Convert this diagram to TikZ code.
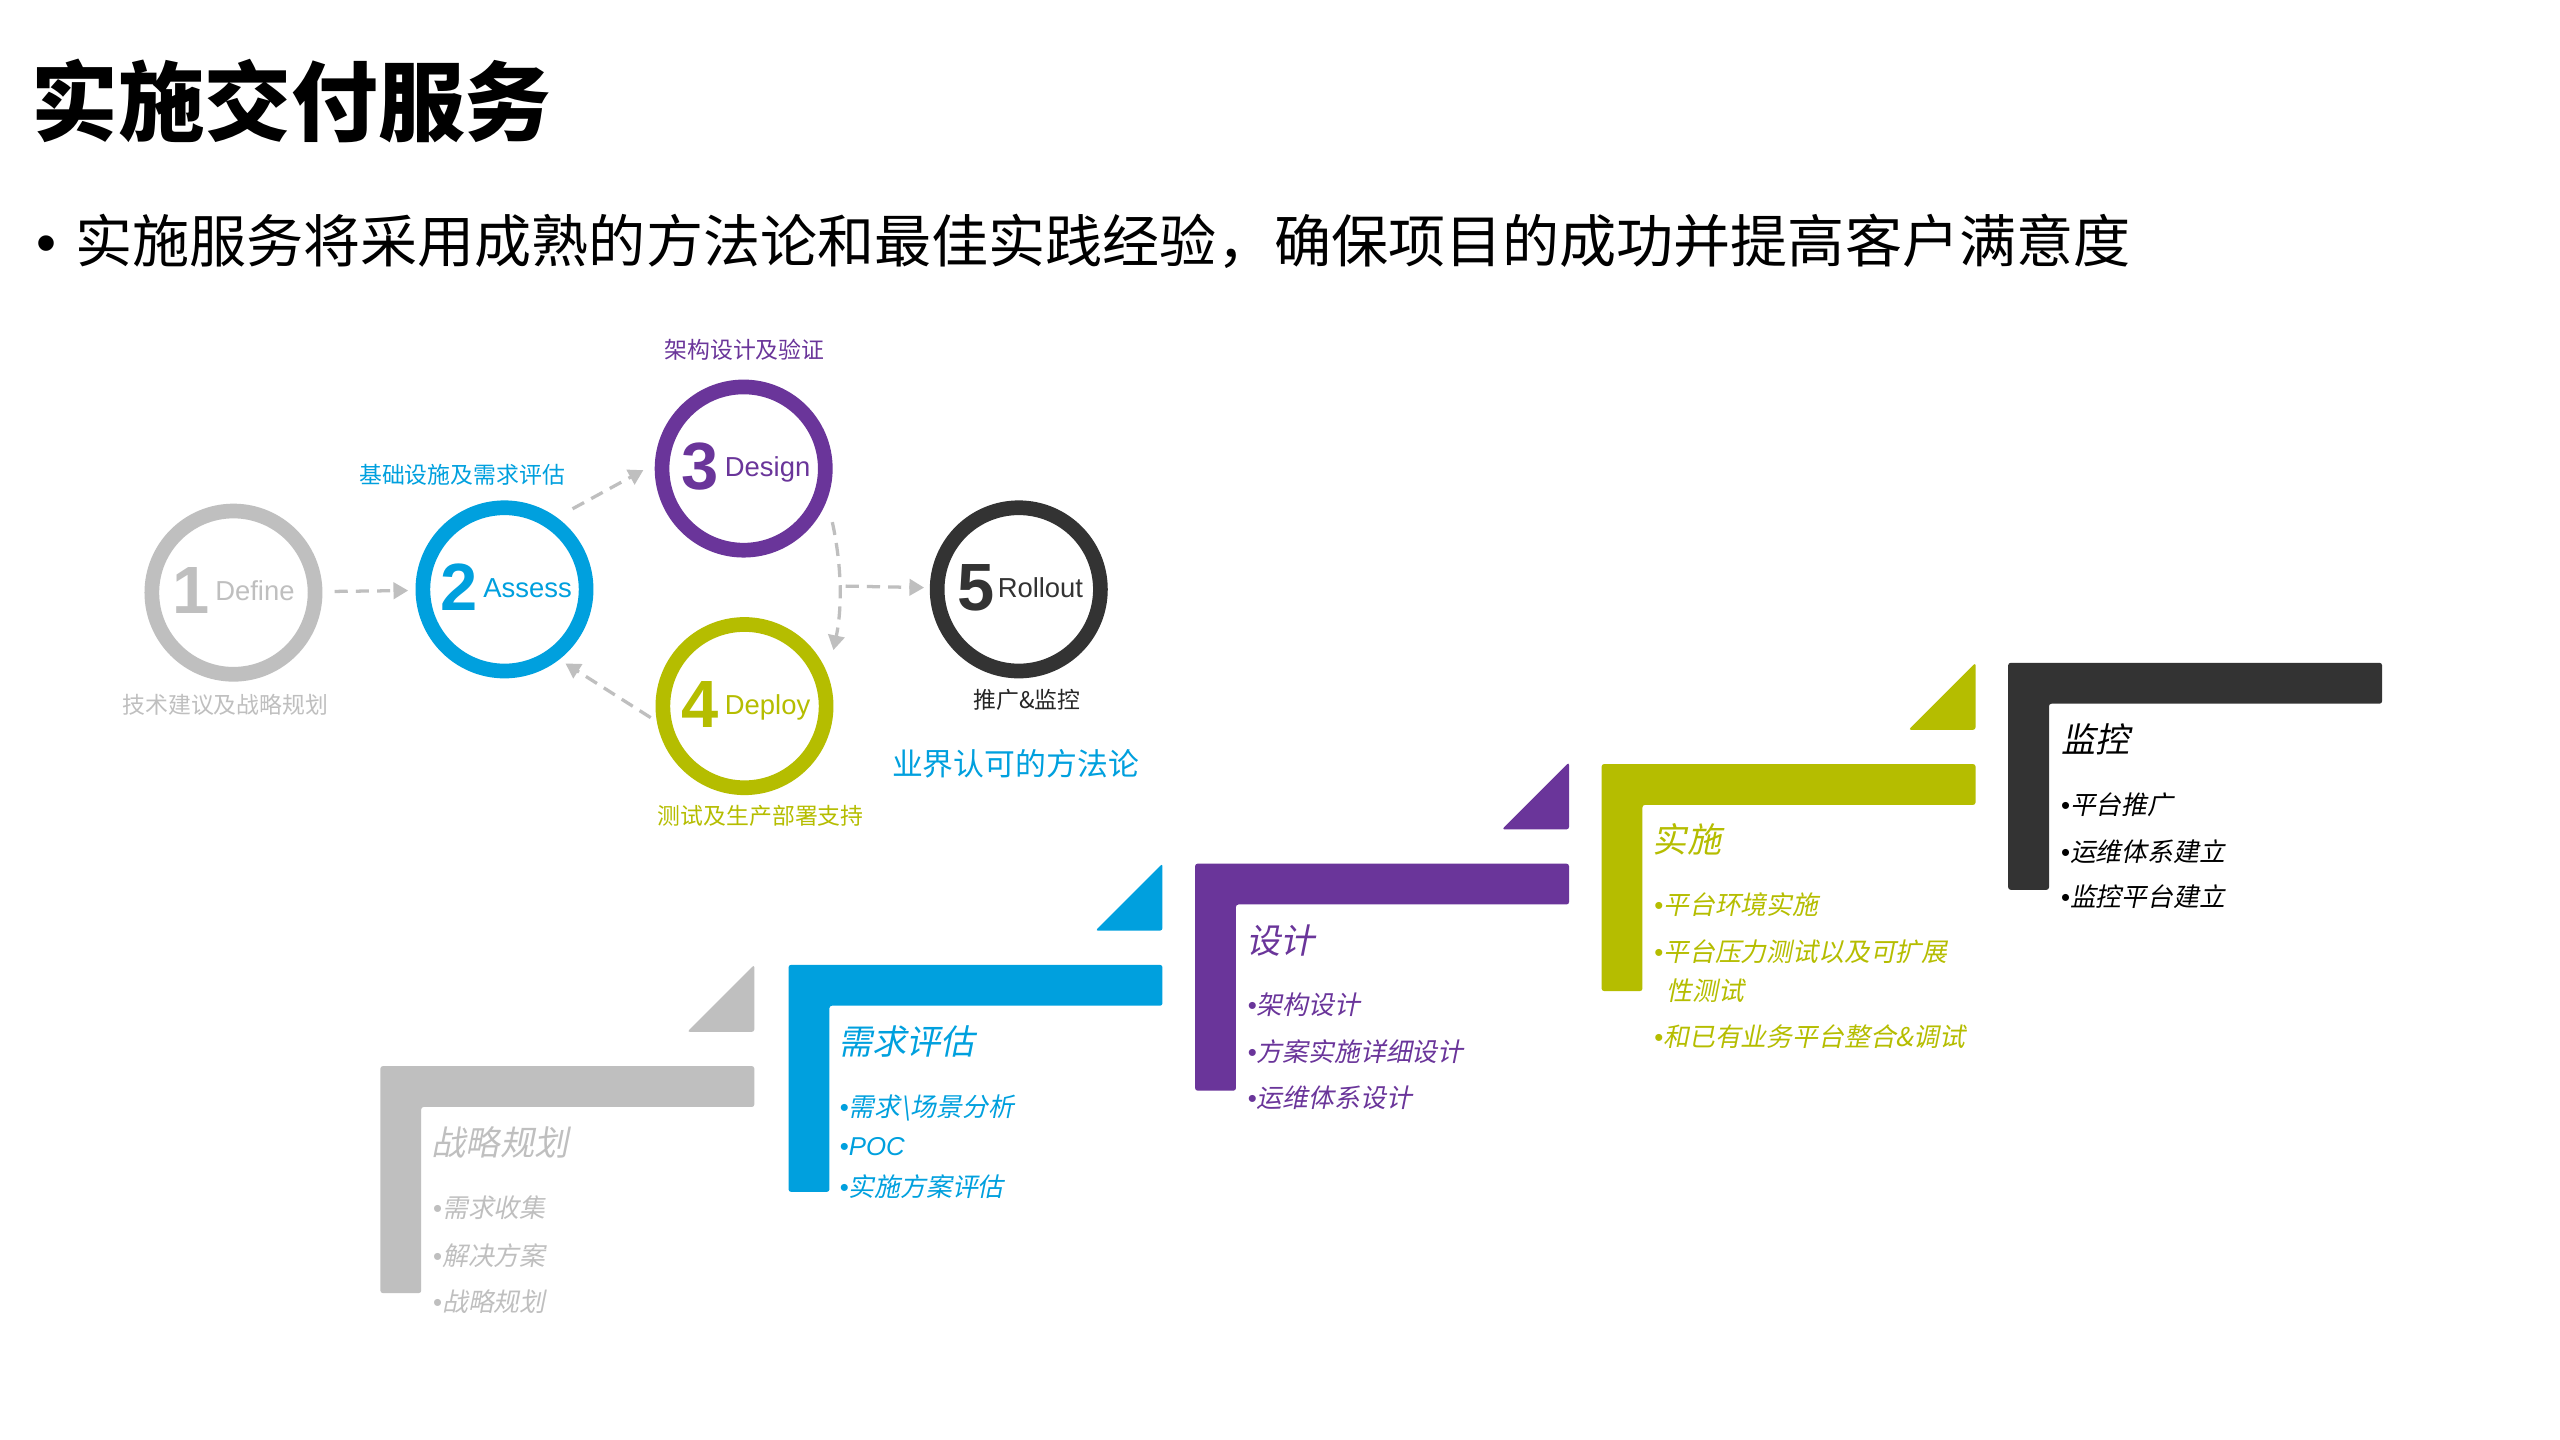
\documentclass[tikz,border=0pt]{standalone}
\usepackage{fontspec}
\setmainfont{Liberation Sans}
\newfontfamily\cjk{Noto Sans CJK SC}
\newfontfamily\cjkit{Noto Sans CJK SC}[FakeSlant=0.2]
\usetikzlibrary{arrows.meta}
\newcommand\fsz[1]{\fontsize{#1}{#1}\selectfont}
\newcommand\bul{{\rmfamily\upshape\textbullet}}
\definecolor{cgray}{HTML}{BFBFBF}
\definecolor{cblue}{HTML}{00A0DE}
\definecolor{cpurple}{HTML}{6A359A}
\definecolor{cyel}{HTML}{B5BD00}
\definecolor{cdark}{HTML}{333333}
\newcommand\stair[3]{%
  \fill[#3, rounded corners=0.3mm] (#1,#2) -- ({#1+229},#2) -- ({#1+229},{#2+25}) -- ({#1+25},{#2+25}) -- ({#1+25},{#2+139}) -- (#1,{#2+139}) -- cycle;}
\newcommand\stairtri[3]{%
  \fill[#3, rounded corners=0.3mm] ({#1+188},{#2-21}) -- ({#1+229},{#2-21}) -- ({#1+229},{#2-62}) -- cycle;}
\begin{document}
\begin{tikzpicture}[x=0.2mm,y=-0.2mm,
  ring/.style={circle, draw=#1, line width=1.8mm, minimum size=20mm, inner sep=0},
  flow/.style={draw=cgray, line width=0.4mm, dash pattern=on 1.6mm off 1mm, -{Triangle[length=1.8mm,width=2mm]}},
  lbl/.style={inner sep=0, font=\cjk\fsz{7.97}},
  num/.style={anchor=base, inner sep=0},
  stitle/.style={anchor=west, inner sep=0, font=\cjkit\fsz{11.95}},
  sitem/.style={anchor=west, inner sep=0, font=\cjkit\fsz{9}},
]
\useasboundingbox[fill=white] (0,0) rectangle (1568,882);

% heading
\node[anchor=west, inner sep=0, font=\cjk\bfseries\fsz{30.2}] (title) at (19,62) {实施交付服务};
\node[anchor=west, inner sep=0, font=\cjk\fsz{19.9}] (sub) at (22,148) {\bul\hspace{6.5pt}实施服务将采用成熟的方法论和最佳实践经验，确保项目的成功并提高客户满意度};

% circles
\node[ring=cgray] (c1) at (143,363) {};
\node[ring=cblue] (c2) at (309,361) {};
\node[ring=cpurple] (c3) at (455.5,287) {};
\node[ring=cyel] (c4) at (456,432.5) {};
\node[ring=cdark] (c5) at (624,361) {};

\node[num, text=cgray] (t1) at (143,376) {\bfseries\fsz{23.3}1\hspace{2pt}\raisebox{4.5pt}{\mdseries\fsz{9.56}Define}};
\node[num, text=cblue] (t2) at (310,374) {\bfseries\fsz{23.3}2\hspace{2pt}\raisebox{4.5pt}{\mdseries\fsz{9.56}Assess}};
\node[num, text=cpurple] (t3) at (457,300) {\bfseries\fsz{23.3}3\hspace{2pt}\raisebox{4.5pt}{\mdseries\fsz{9.56}Design}};
\node[num, text=cyel] (t4) at (457,445.5) {\bfseries\fsz{23.3}4\hspace{2pt}\raisebox{4.5pt}{\mdseries\fsz{9.56}Deploy}};
\node[num, text=cdark] (t5) at (625,374) {\bfseries\fsz{23.3}5\hspace{1pt}\raisebox{4.5pt}{\mdseries\fsz{9.56}Rollout}};

\node[lbl, text=cgray] (l1) at (138,432) {技术建议及战略规划};
\node[lbl, text=cblue] (l2) at (283,291) {基础设施及需求评估};
\node[lbl, text=cpurple] (l3) at (456,214) {架构设计及验证};
\node[lbl, text=cyel] (l4) at (466,500) {测试及生产部署支持};
\node[lbl, text=black!85] (l5) at (629,429) {推广\&监控};
\node[inner sep=0, font=\cjk\fsz{10.75}, text=cblue] (meth) at (622,468) {业界认可的方法论};

% connectors
\draw[flow, shorten <=1.5mm, shorten >=0.9mm] (c1) -- (c2);
\draw[flow, shorten <=2.2mm, shorten >=1.6mm] (c2.54) -- (c3.177);
\draw[flow, shorten <=2.9mm, shorten >=3.2mm] (c3.-20) to[bend left=12] (c4.20);
\draw[flow, shorten <=0.9mm, shorten >=0.9mm] (c4.190) -- (c2.-52);
\coordinate (mid) at (518,359);
\draw[flow, shorten >=0.7mm] (mid) -- (c5);

% stairs
\stair{233}{653}{cgray}   \stairtri{233}{653}{cgray}
\stair{483}{591}{cblue}   \stairtri{483}{591}{cblue}
\stair{732}{529}{cpurple} \stairtri{732}{529}{cpurple}
\stair{981}{468}{cyel}    \stairtri{981}{468}{cyel}
\stair{1230}{406}{cdark}

% stair texts
\node[stitle, text=cgray] (g0) at (264,700) {战略规划};
\node[sitem, text=cgray] (g1) at (265,740) {\bul 需求收集};
\node[sitem, text=cgray] (g2) at (265,769) {\bul 解决方案};
\node[sitem, text=cgray] (g3) at (265,797) {\bul 战略规划};

\node[stitle, text=cblue] (b0) at (513,638) {需求评估};
\node[sitem, text=cblue] (b1) at (514,678.5) {\bul 需求\textbackslash{}场景分析};
\node[sitem, text=cblue] (b2) at (514,702.5) {\bul{\rmfamily\itshape POC}};
\node[sitem, text=cblue] (b3) at (514,727) {\bul 实施方案评估};

\node[stitle, text=cpurple] (p0) at (763,576) {设计};
\node[sitem, text=cpurple] (p1) at (764,615.5) {\bul 架构设计};
\node[sitem, text=cpurple] (p2) at (764,644) {\bul 方案实施详细设计};
\node[sitem, text=cpurple] (p3) at (764,672.5) {\bul 运维体系设计};

\node[stitle, text=cyel] (y0) at (1012,514) {实施};
\node[sitem, text=cyel] (y1) at (1013,554) {\bul 平台环境实施};
\node[sitem, text=cyel] (y2) at (1013,583) {\bul 平台压力测试以及可扩展};
\node[sitem, text=cyel] (y2b) at (1020.5,607) {性测试};
\node[sitem, text=cyel] (y3) at (1013,635) {\bul 和已有业务平台整合\&调试};

\node[stitle, text=black] (d0) at (1262,452.6) {监控};
\node[sitem, text=black] (d1) at (1262,493) {\bul 平台推广};
\node[sitem, text=black] (d2) at (1262,521.5) {\bul 运维体系建立};
\node[sitem, text=black] (d3) at (1262,549) {\bul 监控平台建立};
\end{tikzpicture}
\end{document}
